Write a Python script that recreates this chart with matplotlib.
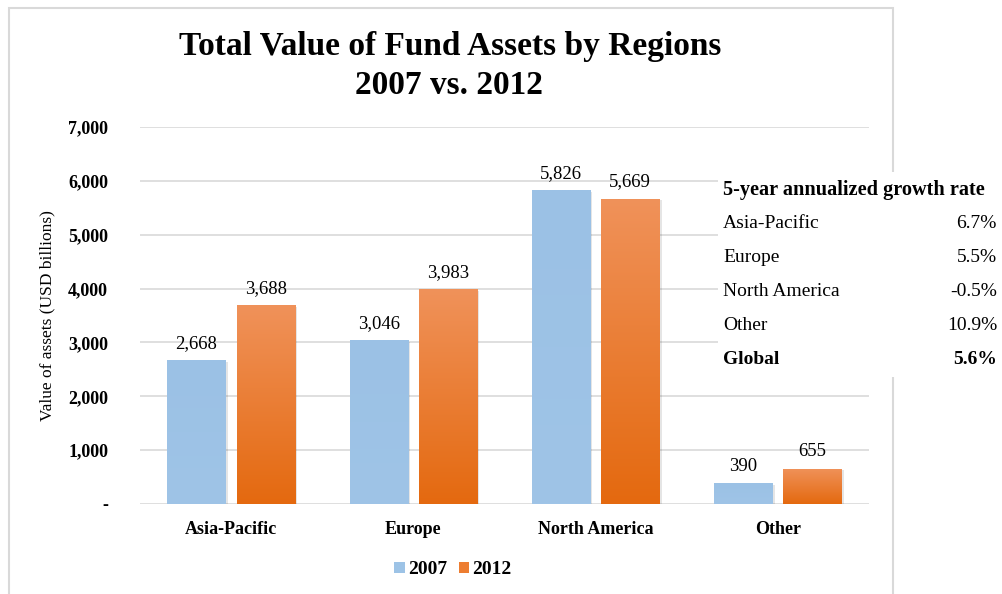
import matplotlib
matplotlib.use("Agg")
import matplotlib.pyplot as plt
import numpy as np
from matplotlib.patches import Rectangle, Patch
from matplotlib.colors import LinearSegmentedColormap
from matplotlib.ticker import FuncFormatter

categories = ["Asia-Pacific", "Europe", "North America", "Other"]
values_2007 = [2668, 3046, 5826, 390]
values_2012 = [3688, 3983, 5669, 655]
series_names = ["2007", "2012"]
yticks = [0, 1000, 2000, 3000, 4000, 5000, 6000, 7000]
growth_regions = ["Asia-Pacific", "Europe", "North America", "Other"]
growth_rates = ["6.7%", "5.5%", "-0.5%", "10.9%"]
global_rate = "5.6%"

SERIF = ["Liberation Serif", "DejaVu Serif"]
plt.rcParams["font.family"] = SERIF

W, H = 1003, 594
fig = plt.figure(figsize=(W / 100, H / 100), dpi=100)
fig.patch.set_facecolor("white")

# chart border
fig.patches.append(Rectangle((9 / W, -0.01), (893 - 9) / W, 1.01 - 8 / H,
                             transform=fig.transFigure, fill=False,
                             edgecolor="#d9d9d9", linewidth=1.5, zorder=0))

ax = fig.add_axes([140 / W, 1 - 504 / H, (869 - 140) / W, (504 - 127) / H])
ax.set_xlim(-0.5, 3.5)
ax.set_ylim(0, 7000)
for s in ax.spines.values():
    s.set_visible(False)
ax.set_yticks(yticks)
ax.yaxis.set_major_formatter(FuncFormatter(lambda v, p: "-" if v == 0 else f"{int(v):,}"))
ax.grid(axis="y", color="#d9d9d9", linewidth=1.2)
ax.set_axisbelow(True)
ax.tick_params(axis="y", length=0, pad=23, labelsize=13)
ax.tick_params(axis="x", length=0, pad=12, labelsize=13)
for t in ax.get_yticklabels():
    t.set_fontweight("bold")
ax.set_xticks(range(len(categories)))
ax.set_xticklabels(categories, fontweight="bold")
ax.set_ylabel("Value of assets (USD billions)", fontsize=12.5, labelpad=9)

x = np.arange(len(categories))
bw = 0.32
off = 0.19
cmap_blue = LinearSegmentedColormap.from_list("b", ["#9fc4e7", "#9bc1e5"])
cmap_org = LinearSegmentedColormap.from_list("o", ["#e4690f", "#f0925a"])

def grad_bars(xpos, vals, color, cmap, label):
    bars = ax.bar(xpos, vals, width=bw, color=color, label=label, zorder=2)
    for b in bars:
        bx, by, bwid, bh = b.get_x(), b.get_y(), b.get_width(), b.get_height()
        sh = Rectangle((bx + 0.012, by), bwid, bh - 30, facecolor="#000000",
                       alpha=0.10, zorder=1.5, linewidth=0)
        ax.add_patch(sh)
        grad = np.linspace(0, 1, 256).reshape(-1, 1)
        im = ax.imshow(grad, cmap=cmap, origin="lower", aspect="auto",
                       extent=[bx, bx + bwid, by, by + bh], zorder=2.5)
        im.set_clip_path(b)
    return bars

b1 = grad_bars(x - off, values_2007, "#9dc3e6", cmap_blue, series_names[0])
b2 = grad_bars(x + off, values_2012, "#ed7d31", cmap_org, series_names[1])
ax.set_xlim(-0.5, 3.5)
ax.set_ylim(0, 7000)

for bars, vals in ((b1, values_2007), (b2, values_2012)):
    for b, v in zip(bars, vals):
        ax.annotate(f"{v:,}", (b.get_x() + b.get_width() / 2, v), xytext=(0, 6),
                    textcoords="offset points", ha="center", va="bottom",
                    fontsize=13.5, zorder=5)

# title
fig.text(450 / W, 1 - 47 / H, "Total Value of Fund Assets by Regions", ha="center",
         va="center", fontsize=24, fontweight="bold")
fig.text(449 / W, 1 - 85 / H, "2007 vs. 2012", ha="center", va="center",
         fontsize=24, fontweight="bold")

# legend
handles = [Patch(facecolor="#9dc3e6"), Patch(facecolor="#ed7d31")]
leg = fig.legend(handles, series_names, loc="center", bbox_to_anchor=(453 / W, 1 - 570 / H),
                 ncol=2, frameon=False, handlelength=0.55, handleheight=0.55,
                 handletextpad=0.15, columnspacing=0.6, prop={"weight": "bold", "size": 14})

# growth table
fig.patches.append(Rectangle((718 / W, 1 - 377 / H), (W - 718) / W, (377 - 172) / H,
                             transform=fig.transFigure, facecolor="white",
                             edgecolor="none", zorder=3))
fig.text(723 / W, 1 - 190 / H, "5-year annualized growth rate", ha="left", va="center",
         fontsize=14.6, fontweight="bold", zorder=4)
row_y = [223, 258, 292, 325]
for name, rate, yy in zip(growth_regions, growth_rates, row_y):
    fig.text(723 / W, 1 - yy / H, name, ha="left", va="center", fontsize=14, zorder=4)
    fig.text(997 / W, 1 - yy / H, rate, ha="right", va="center", fontsize=14, zorder=4)
fig.text(723 / W, 1 - 360 / H, "Global", ha="left", va="center", fontsize=14,
         fontweight="bold", zorder=4)
fig.text(997 / W, 1 - 360 / H, global_rate, ha="right", va="center", fontsize=14,
         fontweight="bold", zorder=4)

fig.savefig("out.png", dpi=100)
